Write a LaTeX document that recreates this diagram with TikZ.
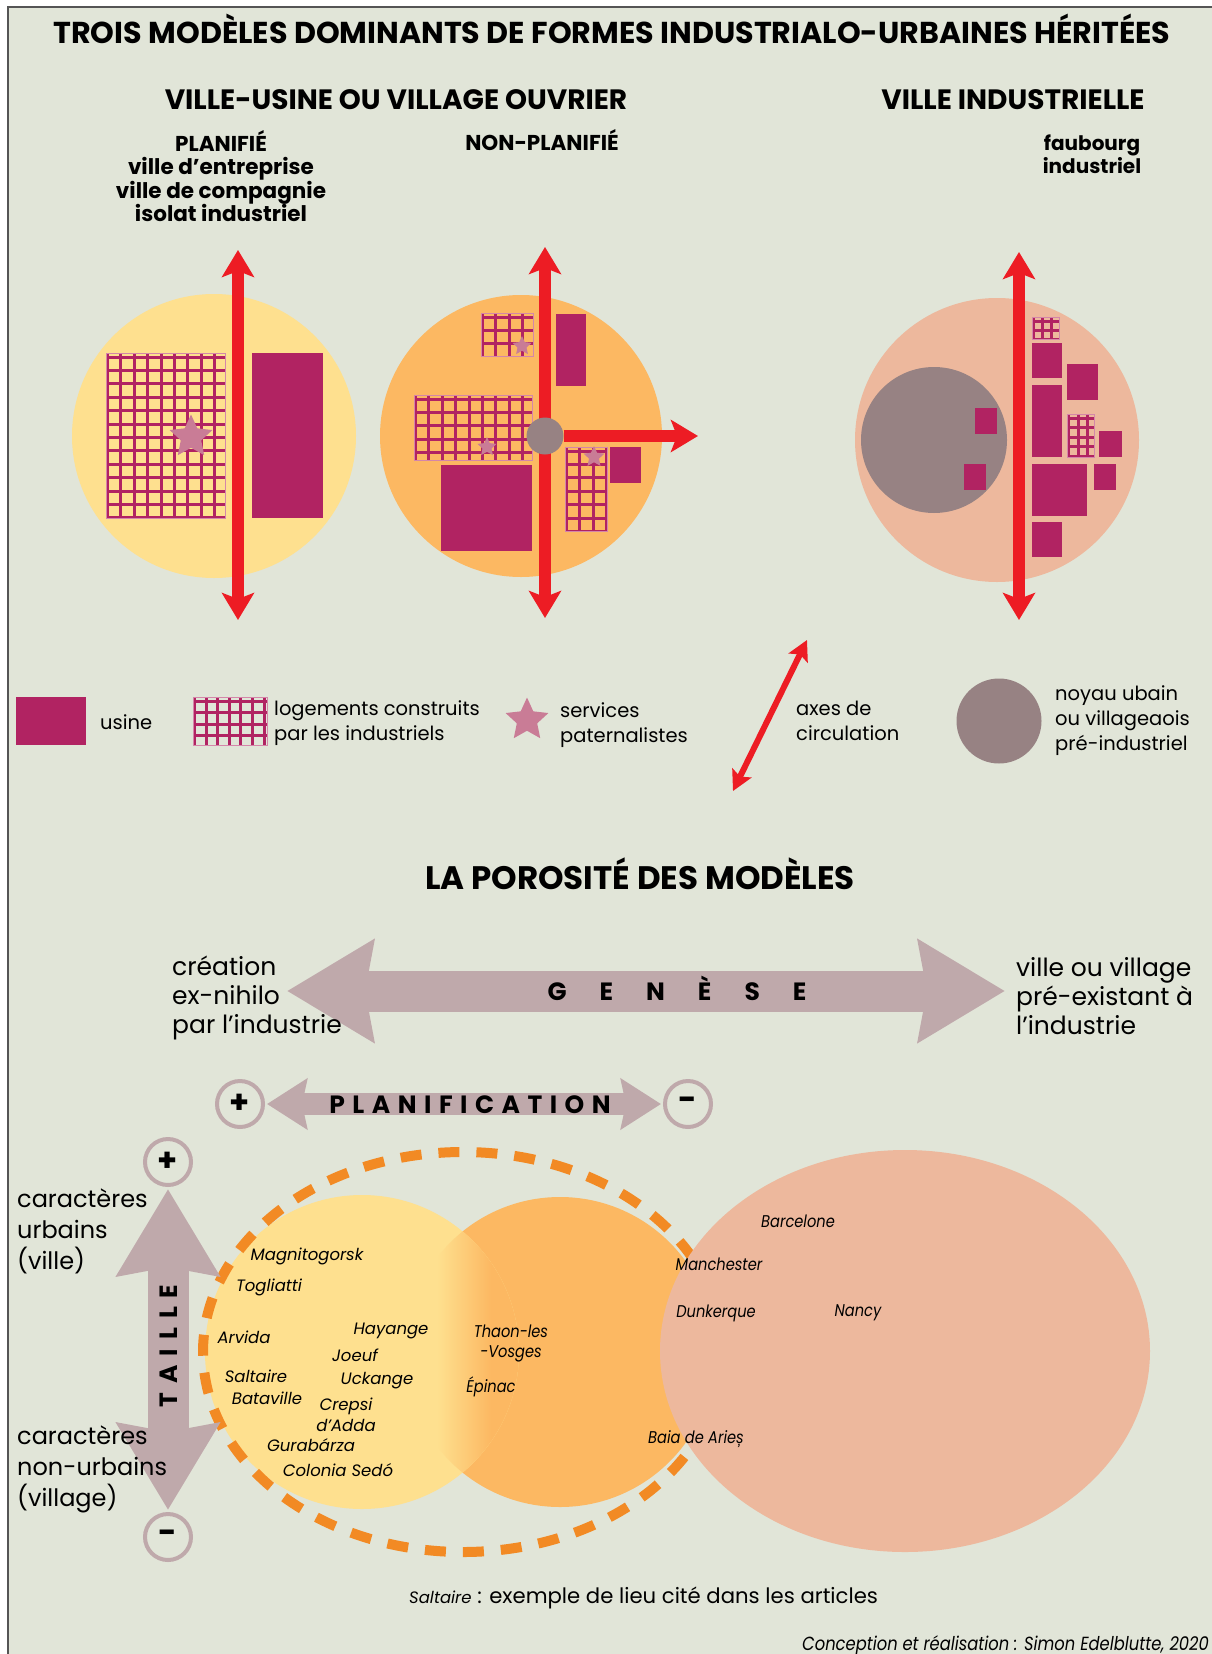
\documentclass[tikz,border=0pt]{standalone}
\usepackage{fontspec}
\setmainfont{Poppins}
\newfontfamily\etroit[FakeStretch=0.86]{Poppins}
\usetikzlibrary{arrows.meta,shapes.geometric}

\definecolor{fond}{HTML}{E1E5D8}
\definecolor{cadrec}{HTML}{555555}
\definecolor{jaune}{HTML}{FEE08F}
\definecolor{orangec}{HTML}{FCB862}
\definecolor{saumon}{HTML}{EDB89D}
\definecolor{usinec}{HTML}{B12362}
\definecolor{etoilec}{HTML}{C97C96}
\definecolor{noyauc}{HTML}{978283}
\definecolor{rouge}{HTML}{ED1C24}
\definecolor{flechec}{HTML}{BFA9AB}
\definecolor{tiretc}{HTML}{F28A24}

% grille des logements : [pas]{x1}{y1}{x2}{y2}
\newcommand\logements[5][13.4]{%
	\begin{scope}
		\clip (#2,#3) rectangle (#4,#5);
		\foreach \d in {0,#1,...,170} {
			\draw[grille] ({#2+1.5+\d},#3) -- ({#2+1.5+\d},#5);
			\draw[grille] (#2,{#3+4+\d}) -- (#4,{#3+4+\d});
		}
	\end{scope}
	\draw[grillebord] (#2,#3) rectangle (#4,#5);
}

\begin{document}
\begin{tikzpicture}[x=1pt, y=-1pt,
		usine/.style={fill=usinec},
		grille/.style={draw=usinec, line width=3pt},
		grillebord/.style={draw=usinec!55, line width=0.8pt},
		etoile/.style={star, star points=5, star point ratio=2.1, fill=etoilec, inner sep=0pt},
		noyau/.style={circle, fill=noyauc, inner sep=0pt},
		axe/.style={draw=rouge, line width=12.6pt, >={Stealth[length=27pt,width=32pt,inset=6pt]}, <->},
		axefin/.style={draw=rouge, line width=6pt, >={Stealth[length=20pt,width=21pt,inset=4pt]}, <->},
		fleche/.style={draw=flechec, line width=41pt, >={Stealth[length=86pt,width=100pt,inset=8pt]}, <->},
		flechemoy/.style={draw=flechec, line width=22pt, >={Stealth[length=40pt,width=50pt,inset=5pt]}, <->},
		borne/.style={circle, draw=flechec, line width=4pt, fill=fond, minimum size=46pt, inner sep=0pt,
					  font=\bfseries\fontsize{32}{32}\selectfont},
		tirets/.style={draw=tiretc, line width=10pt, dash pattern=on 21pt off 17pt},
		titre/.style={font=\bfseries\fontsize{28}{30}\selectfont, anchor=base, inner sep=0pt},
		typo/.style={font=\bfseries\fontsize{21.5}{23.3}\selectfont, align=center, inner sep=0pt},
		legende/.style={font=\fontsize{19.5}{25}\selectfont, align=left, anchor=west, inner sep=0pt},
		pole/.style={font=\fontsize{25}{29}\selectfont, align=left, anchor=west, inner sep=0pt},
		carac/.style={font=\fontsize{24}{31}\selectfont, align=left, anchor=west, inner sep=0pt},
		axetexte/.style={font=\bfseries\fontsize{25}{25}\selectfont, text height=18pt, text depth=0pt, inner sep=0pt},
		ville/.style={font=\itshape\fontsize{16.5}{21}\selectfont, align=center, inner sep=0pt},
		villeetr/.style={font=\etroit\itshape\fontsize{17}{20}\selectfont, align=center, inner sep=0pt}]

	\useasboundingbox (0,0) rectangle (1212,1654);
	\fill[white] (0,0) rectangle (1212,1654);
	\fill[fond] (8,7) rectangle (1212,1654);
	\draw[cadrec, line width=2pt] (8,1654) -- (8,7) -- (1212,7);

	% titres
	\node[titre, font=\bfseries\fontsize{30.2}{32}\selectfont] (t1) at (612, 44) {TROIS MODÈLES DOMINANTS DE FORMES INDUSTRIALO-URBAINES HÉRITÉES};
	\node[titre] (t2) at (396, 109) {VILLE-USINE OU VILLAGE OUVRIER};
	\node[titre] (t3) at (1013, 109) {VILLE INDUSTRIELLE};
	\node[typo] (t4) at (221, 176) {PLANIFIÉ\\ville d'entreprise\\ville de compagnie\\isolat industriel};
	\node[typo, anchor=base] (t5) at (542, 150) {NON-PLANIFIÉ};
	\node[typo, font=\bfseries\fontsize{20}{23.3}\selectfont] (t6) at (1092, 154) {faubourg\\industriel};

	% les trois modeles
	\fill[jaune] (214,436) circle[radius=142];
	\fill[orangec] (521,436) circle[radius=141];
	\fill[saumon] (997,440) circle[radius=142];
	\fill[noyauc] (934,440) circle[radius=73];

	\logements{106}{353}{225}{518}
	\logements{481}{313}{533}{356}
	\logements{414}{395}{532}{460}
	\logements{565}{447}{607}{531}
	\logements[9]{1032}{317}{1059}{339}
	\logements[9.5]{1067}{414}{1094}{457}

	\fill[usine] (252,353) rectangle (323,518);
	\fill[usine] (556,314) rectangle (586,386);
	\fill[usine] (441,465) rectangle (532,551);
	\fill[usine] (610,447) rectangle (641,483);
	\fill[usine] (1032,343) rectangle (1062,378);
	\fill[usine] (1067,364) rectangle (1098,400);
	\fill[usine] (1032,385) rectangle (1062,457);
	\fill[usine] (1099,431) rectangle (1122,457);
	\fill[usine] (1032,464) rectangle (1087,516);
	\fill[usine] (1094,464) rectangle (1116,490);
	\fill[usine] (1032,522) rectangle (1062,557);
	\fill[usine] (975,408) rectangle (997,434);
	\fill[usine] (964,464) rectangle (986,490);

	\node[etoile, minimum size=45pt] (e1) at (191,437) {};
	\node[etoile, minimum size=20pt] (e2) at (522,346) {};
	\node[etoile, minimum size=20pt] (e3) at (487,447) {};
	\node[etoile, minimum size=22pt] (e4) at (594,457) {};

	\coordinate (a1n) at (238,250);
	\coordinate (a1s) at (238,620);
	\coordinate (a2n) at (545,247);
	\coordinate (a2s) at (545,618);
	\coordinate (a2e) at (698,436);
	\coordinate (a3n) at (1019,252);
	\coordinate (a3s) at (1019,620);
	\draw[axe] (a1n) -- (a1s);
	\draw[axe] (a2n) -- (a2s);
	\draw[axe] (a3n) -- (a3s);
	\node[noyau, minimum size=37pt] (n2) at (545,436) {};
	\draw[axe, ->] (n2) -- (a2e);

	% legende
	\fill[usine] (16,697) rectangle (86,745);
	\node[legende, anchor=base west] (l1) at (100, 729) {usine};
	\logements[11.6]{193}{697}{267}{745}
	\node[legende] (l2) at (274, 723) {logements construits\\par les industriels};
	\node[etoile, minimum size=45pt] (e5) at (527,720) {};
	\node[legende] (l3) at (560, 725) {services\\paternalistes};
	\coordinate (lf1) at (807,640);
	\coordinate (lf2) at (733,791);
	\draw[axefin] (lf1) -- (lf2);
	\node[legende] (l4) at (796, 721) {axes de\\circulation};
	\node[noyau, minimum size=85pt] (l5) at (999,721) {};
	\node[legende] (l6) at (1055, 721) {noyau ubain\\ou villageaois\\pré-industriel};

	% porosite
	\node[titre, font=\bfseries\fontsize{32.5}{34}\selectfont] (t7) at (640, 889) {LA POROSITÉ DES MODÈLES};

	\coordinate (gg) at (287,991);
	\coordinate (gd) at (1005,991);
	\draw[fleche] (gg) -- (gd);
	\node[axetexte] (g1) at (677, 991) {G\hspace{33pt}E\hspace{33pt}N\hspace{33pt}È\hspace{33pt}S\hspace{33pt}E};
	\node[pole] (g2) at (172, 998) {création\\ex-nihilo\\par l'industrie};
	\node[pole] (g3) at (1016, 996) {ville ou village\\pré-existant à\\l'industrie};

	\node[borne] (pplus) at (240,1104) {+};
	\node[borne] (pmoins) at (688,1104) {-};
	\draw[flechemoy, shorten <=2pt, shorten >=2pt] (pplus) -- (pmoins);
	\node[axetexte] (p1) at (470, 1104) {P\hspace{7.5pt}L\hspace{7.5pt}A\hspace{7.5pt}N\hspace{7.5pt}I\hspace{7.5pt}F\hspace{7.5pt}I\hspace{7.5pt}C\hspace{7.5pt}A\hspace{7.5pt}T\hspace{7.5pt}I\hspace{7.5pt}O\hspace{7.5pt}N};

	% diagramme de Venn
	\fill[orangec] (560,1352) circle[radius=155];
	\fill[jaune] (362,1352) circle[radius=157];
	\begin{scope}
		\clip (362,1352) circle[radius=157];
		\clip (560,1352) circle[radius=155];
		\fill[orangec] (491,1180) rectangle (530,1520);
		\shade[left color=jaune, right color=orangec] (437,1180) rectangle (491,1520);
	\end{scope}
	\draw[tirets] (463,1352) ellipse[x radius=260, y radius=200];
	\fill[saumon] (905,1351) ellipse[x radius=245, y radius=201];

	\node[borne] (tplus) at (168,1162) {+};
	\node[borne] (tmoins) at (168,1537) {-};
	\draw[fleche, shorten <=2pt, shorten >=2pt] (tplus) -- (tmoins);
	\node[axetexte, rotate=90] (ta) at (168, 1346) {T\hspace{9pt}A\hspace{9pt}I\hspace{9pt}L\hspace{9pt}L\hspace{9pt}E};
	\node[carac] (c1) at (17, 1231) {caractères\\urbains\\(ville)};
	\node[carac] (c2) at (17, 1469) {caractères\\non-urbains\\(village)};

	\node[ville] (v1) at (307, 1256) {Magnitogorsk};
	\node[ville] (v2) at (269, 1287) {Togliatti};
	\node[ville] (v3) at (244, 1337) {Arvida};
	\node[ville] (v4) at (391, 1331) {Hayange};
	\node[ville] (v5) at (355, 1355) {Joeuf};
	\node[ville] (v6) at (256, 1376) {Saltaire};
	\node[ville] (v7) at (377, 1381) {Uckange};
	\node[ville] (v8) at (267, 1398) {Bataville};
	\node[ville] (v9) at (346, 1415) {Crepsi\\d'Adda};
	\node[ville] (v10) at (311, 1445) {Gurabárza};
	\node[ville] (v11) at (338, 1470) {Colonia Sedó};
	\node[villeetr] (v12) at (511, 1343) {Thaon-les\\-Vosges};
	\node[villeetr] (v13) at (491, 1387) {Épinac};
	\node[villeetr] (v14) at (798, 1221) {Barcelone};
	\node[villeetr] (v15) at (719, 1264) {Manchester};
	\node[villeetr] (v16) at (716, 1313) {Dunkerque};
	\node[villeetr] (v17) at (858, 1313) {Nancy};
	\node[villeetr] (v18) at (696, 1439) {Baia de Arieș};

	% pied
	\node[legende, anchor=base west, font=\fontsize{21.2}{25}\selectfont] (f1) at (409, 1603) {{\itshape\fontsize{16.5}{16}\selectfont Saltaire} : exemple de lieu cité dans les articles};
	\node[inner sep=0pt, anchor=base west, font=\etroit\itshape\fontsize{19}{19}\selectfont] (f2) at (802, 1650) {Conception et réalisation : Simon Edelblutte, 2020};
\end{tikzpicture}
\end{document}
